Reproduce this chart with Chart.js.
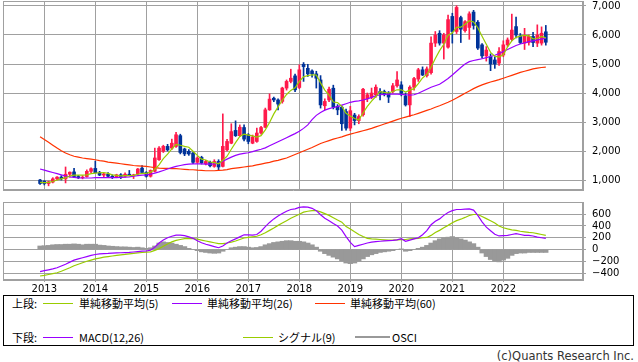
<!DOCTYPE html>
<html><head><meta charset="utf-8">
<script src="https://cdn.jsdelivr.net/npm/chart.js@4.4.1/dist/chart.umd.min.js"></script>
<style>
html,body{margin:0;padding:0;background:#fff;}
#wrap{position:relative;width:638px;height:362px;overflow:hidden;font-family:"DejaVu Sans",sans-serif;}
#c1{position:absolute;left:0;top:0;}
#c2{position:absolute;left:0;top:196px;}
#box{position:absolute;left:3px;top:295px;width:629px;height:49px;border:1px solid #000;}
.t{position:absolute;white-space:nowrap;font-family:"Noto Sans CJK JP",sans-serif;font-size:11px;line-height:14px;color:#000;}
.ln{position:absolute;height:1px;}
#copy{position:absolute;right:4px;top:349px;font-family:"DejaVu Sans",sans-serif;font-size:11.5px;line-height:14px;color:#333;white-space:nowrap;}
</style></head>
<body><div id="wrap">
<canvas id="c1" width="638" height="196"></canvas>
<canvas id="c2" width="638" height="99"></canvas>
<div id="box"></div>
<div class="t" style="left:12px;top:296px">上段:</div>
<div class="ln" style="left:43px;top:303px;width:30px;background:#99cc00"></div>
<div class="t" style="left:79px;top:296px">単純移動平均(5)</div>
<div class="ln" style="left:172px;top:303px;width:30px;background:#9900ff"></div>
<div class="t" style="left:207px;top:296px">単純移動平均(26)</div>
<div class="ln" style="left:315px;top:303px;width:30px;background:#ff3300"></div>
<div class="t" style="left:350px;top:296px">単純移動平均(60)</div>
<div class="t" style="left:12px;top:330px">下段:</div>
<div class="ln" style="left:43px;top:337px;width:30px;background:#9900ff"></div>
<div class="t" style="left:79px;top:330px">MACD(12,26)</div>
<div class="ln" style="left:243px;top:337px;width:30px;background:#99cc00"></div>
<div class="t" style="left:278px;top:330px">シグナル(9)</div>
<div class="ln" style="left:355px;top:336px;width:35px;height:2px;background:#999"></div>
<div class="t" style="left:392px;top:330px">OSCI</div>
<div id="copy">(c)Quants Research Inc.</div>
</div>
<script>
// ---- data (monthly, Dec 2012 .. Nov 2022) ----
const months = [];
for (let k = 0; k < 120; k++) { const yy = 2012 + Math.floor((11 + k) / 12); const mm = ((11 + k) % 12) + 1; months.push(yy + '/' + String(mm).padStart(2, '0')); }
const years = ['2013','2014','2015','2016','2017','2018','2019','2020','2021','2022'];
const yearIdx = [1,13,25,37,49,61,73,85,97,109];
const priceTicks = [1000,2000,3000,4000,5000,6000,7000];
const macdTicks = [-400,-200,0,200,400,600];

const openP = [1000,960,880,930,1040,1100,1040,1200,1280,1120,1080,1120,1300,
1400,1250,1170,1200,1130,1100,1180,1130,1200,1150,1220,1410,
1260,1130,1300,1700,1990,2160,2100,2160,2530,2070,1990,1930,
1610,1780,1560,1610,1470,1640,1470,2040,2270,2710,2530,2810,
2560,2270,2330,2620,2820,3420,3820,3760,3710,4170,4400,4590,
4190,4990,4850,4760,4660,4450,3560,3760,4165,3540,3510,3360,
2790,3240,3050,3250,3800,3860,3940,4050,4050,3990,4050,4250,
4280,3900,3590,4200,4480,4800,4600,4700,5720,6060,5720,5580,
6640,6120,6600,6150,6260,6790,6440,5660,5280,5250,5140,5030,
5310,5660,5850,6290,5970,5720,5740,5950,5720,5720,6110];
const highP = [1020,980,960,1080,1120,1150,1450,1280,1400,1160,1150,1350,1420,
1650,1300,1230,1260,1180,1200,1220,1250,1330,1200,1400,1500,
1290,1350,2100,2150,2200,2230,2410,2640,2580,2100,2050,1960,
1800,1820,1680,1650,1700,1700,3280,2400,2940,3040,2900,2900,
2600,2550,2790,2850,3480,3970,3860,3800,4200,4450,4820,4650,
4970,5050,4990,4800,4750,4600,3800,4200,4270,3600,3560,3450,
3540,3300,3250,4165,4000,4170,4280,4150,4100,4050,4330,4740,
4390,4000,4250,4540,4850,4900,4900,5940,6120,6150,6060,6690,
6750,7010,6650,6500,6800,6850,6500,5700,5600,5350,5250,5570,
5800,5900,6720,6620,6050,6230,6000,6090,6350,6280,6330];
const lowP = [850,830,800,900,1000,1000,900,1100,1080,1050,1040,1100,1250,
1250,1150,1100,1100,1050,1080,1050,1100,1150,1050,1180,1240,
1100,1100,1280,1680,1950,2000,2050,2120,1900,1840,1850,1560,
1580,1550,1520,1450,1440,1330,1450,2000,2250,2500,2500,2350,
2250,2250,2300,2580,2800,3400,3700,3420,3650,4100,4350,4050,
4150,4400,4570,4550,4170,3480,3420,3700,3450,3250,2710,2720,
2700,2900,2940,3200,3700,3800,3850,3760,3900,3670,4000,4200,
3900,3550,3190,4100,4400,4600,4550,4650,5600,5650,5170,5550,
5720,6050,5740,6100,5850,6200,5500,5200,5100,4770,4850,4950,
5250,5600,5800,5900,5700,5500,5650,5600,5600,5650,5650];
const closeP = [880,880,940,1040,1100,1040,1200,1270,1120,1080,1100,1300,1390,
1250,1170,1210,1130,1100,1180,1120,1200,1150,1180,1380,1260,
1130,1330,1760,2100,2160,2040,2270,2560,1950,1900,1900,1610,
1760,1590,1640,1490,1640,1450,2160,2330,2670,2530,2820,2410,
2330,2480,2620,2810,3420,3790,3760,3620,4170,4400,4510,4110,
4800,4910,4660,4660,4510,3590,3710,4130,3510,3420,2940,2790,
3390,3050,3190,4130,3940,4000,4200,3990,3970,3860,4250,4450,
3990,3590,4200,4500,4800,4620,4830,5720,6000,5720,6000,6530,
6120,6950,6200,6460,6730,6330,5550,5280,5480,5000,5000,5430,
5660,5830,6170,6000,5740,5970,5950,5740,6000,6060,5750];

const ma5 = [920,910,920,950,1000,1040,1080,1140,1170,1170,1170,1180,1220,
1240,1250,1260,1230,1180,1160,1140,1150,1150,1160,1200,1230,
1230,1270,1370,1520,1740,1890,2070,2230,2200,2160,2130,1990,
1850,1720,1690,1620,1600,1560,1680,1820,2060,2290,2500,2580,
2550,2520,2480,2530,2730,2980,3280,3520,3750,3950,4090,4180,
4400,4560,4600,4630,4620,4350,4100,3930,3690,3670,3540,3300,
3210,3120,3070,3310,3540,3720,3880,4050,4020,4000,4050,4110,
4110,4030,4100,4150,4320,4520,4640,4890,5190,5460,5680,5990,
6070,6260,6270,6370,6490,6450,6250,5960,5680,5400,5270,5240,
5320,5590,5800,5920,5960,5990,5970,5870,5880,5950,5900];
const ma26 = [1380,1340,1300,1260,1220,1180,1140,1110,1090,1070,1070,1070,1070,
1080,1080,1080,1080,1080,1080,1090,1100,1110,1130,1150,1170,
1180,1200,1240,1280,1330,1380,1430,1470,1500,1530,1550,1560,
1560,1560,1550,1550,1560,1580,1650,1720,1790,1850,1890,1920,
1940,1980,2020,2060,2110,2180,2250,2320,2390,2460,2530,2600,
2680,2780,2900,3080,3230,3330,3410,3460,3500,3530,3580,3630,
3680,3710,3730,3760,3800,3850,3900,3940,3950,3960,3960,3960,
3950,3940,3930,3940,3990,4060,4130,4200,4250,4300,4400,4500,
4620,4750,4880,5000,5080,5120,5150,5180,5220,5260,5300,5360,
5430,5500,5570,5640,5690,5730,5770,5800,5830,5860,5890];
const ma60 = [2490,2400,2300,2200,2100,2010,1930,1870,1820,1790,1760,1740,1720,
1700,1670,1650,1620,1600,1580,1560,1540,1520,1500,1490,1480,
1470,1450,1430,1410,1400,1400,1390,1390,1380,1370,1360,1355,
1340,1330,1320,1320,1320,1330,1340,1360,1390,1410,1430,1450,
1470,1490,1520,1550,1580,1610,1650,1680,1720,1760,1820,1880,
1940,2000,2060,2120,2190,2260,2310,2360,2410,2450,2490,2540,
2580,2620,2660,2700,2740,2780,2830,2880,2930,2980,3030,3080,
3130,3170,3210,3250,3300,3350,3400,3450,3510,3560,3620,3680,
3750,3830,3910,3990,4070,4150,4220,4280,4330,4380,4420,4460,
4510,4560,4610,4660,4710,4750,4790,4830,4860,4880,4890];

const macd = [-377,-360,-345,-330,-310,-280,-250,-215,-180,-160,-140,-120,-100,
-85,-75,-70,-67,-62,-58,-55,-52,-48,-42,-35,-29,
-25,-12,40,110,160,200,225,245,245,235,215,190,
150,115,90,70,50,30,60,110,150,180,215,250,
250,245,255,310,390,460,520,570,610,650,680,690,
715,725,720,700,660,590,530,490,440,400,330,220,
120,50,70,90,110,125,135,140,145,150,155,165,
185,140,160,180,200,250,320,420,480,520,580,630,
660,680,680,685,690,670,580,470,380,320,260,230,
235,240,255,270,255,240,240,230,210,200,190];
const signal = [-450,-440,-425,-410,-395,-370,-340,-310,-276,-250,-225,-200,-180,
-160,-145,-130,-120,-110,-100,-90,-84,-75,-65,-58,-51,
-45,-40,-15,15,55,95,130,155,170,185,188,185,
175,160,145,130,115,100,100,110,125,145,170,195,
205,215,225,250,285,325,365,410,450,490,530,565,
600,635,650,660,660,640,610,580,540,500,465,390,
350,300,255,220,190,180,175,170,165,160,160,165,
168,170,180,185,190,200,205,240,290,325,370,410,
455,490,515,545,578,595,595,560,525,490,450,400,
370,350,335,325,310,300,290,285,270,255,240];
const osci = [60,65,70,80,85,85,90,90,95,90,80,90,90,
90,75,70,60,55,50,45,45,40,35,40,30,
20,30,60,110,130,120,110,90,70,50,20,0,
-20,-40,-50,-60,-65,-60,-30,0,30,40,50,50,
40,30,35,50,80,100,120,130,140,150,150,140,
140,130,110,80,40,-30,-70,-100,-130,-160,-190,-230,
-240,-230,-200,-160,-120,-90,-70,-50,-40,-30,-20,0,
10,-30,-20,0,20,40,70,110,150,180,200,210,
220,200,180,160,130,100,40,-60,-120,-170,-200,-210,
-180,-150,-100,-70,-60,-60,-50,-50,-50,-50,-50];

// ---- styles ----
const GRID = '#a0a0a0';
const UP = '#ff1a4b', DOWN = '#003399';
const C5 = '#99cc00', C26 = '#9900ff', C60 = '#ff3300', COSC = '#999999';
Chart.defaults.font.family = '"DejaVu Sans", sans-serif';
Chart.defaults.font.size = 10;
Chart.defaults.color = '#000';

const frame = { id: 'frame', afterDatasetsDraw(c) {
  const a = c.chartArea, ctx = c.ctx; ctx.save(); ctx.strokeStyle = GRID; ctx.lineWidth = 1;
  ctx.strokeRect(Math.round(a.left) + 0.5, Math.round(a.top) + 0.5, Math.round(a.right - a.left) - 1, Math.round(a.bottom - a.top) - 1);
  ctx.restore(); } };

const noPad = s => { s.paddingTop = 0; s.paddingBottom = 0; s.paddingLeft = 0; s.paddingRight = 0; };
const XMIN = -8.72, XMAX = 127.75;
const candleColor = months.map((m, i) => closeP[i] >= openP[i] ? UP : DOWN);
const pts = arr => arr.map((v, i) => ({ x: i, y: v }));

new Chart(document.getElementById('c1'), {
  data: { datasets: [
    { type: 'line', data: pts(ma5), borderColor: C5, borderWidth: 1.2, pointRadius: 0, order: 0 },
    { type: 'line', data: pts(ma26), borderColor: C26, borderWidth: 1.2, pointRadius: 0, order: 0 },
    { type: 'line', data: pts(ma60), borderColor: C60, borderWidth: 1.2, pointRadius: 0, order: 0 },
    { type: 'bar', data: months.map((m, i) => ({ x: i, y: [openP[i], closeP[i]] })), backgroundColor: candleColor, barThickness: 3, grouped: false, order: 1 },
    { type: 'bar', data: months.map((m, i) => ({ x: i, y: [lowP[i], highP[i]] })), backgroundColor: candleColor, barThickness: 1, grouped: false, order: 2 }
  ] },
  options: {
    responsive: false, animation: false, devicePixelRatio: 1,
    layout: { padding: { left: 3, top: 1, right: 0, bottom: 0 } },
    plugins: { legend: { display: false }, tooltip: { enabled: false } },
    scales: {
      x: { type: 'linear', min: XMIN, max: XMAX, offset: false,
        afterBuildTicks: s => { s.ticks = yearIdx.map(v => ({ value: v })); },
        ticks: { display: false }, grid: { color: GRID, offset: false, drawTicks: false, tickLength: 0 }, border: { color: GRID },
        afterFit: s => { s.height = 6; noPad(s); } },
      y: { position: 'right', min: 656, max: 7172,
        afterBuildTicks: s => { s.ticks = priceTicks.map(v => ({ value: v })); },
        ticks: { callback: v => v.toLocaleString('en-US'), padding: 6, autoSkip: false },
        grid: { color: GRID, tickLength: 3 }, border: { color: GRID },
        afterFit: s => { s.width = 55; noPad(s); } }
    }
  },
  plugins: [frame]
});

new Chart(document.getElementById('c2'), {
  data: { datasets: [
    { type: 'line', data: pts(macd), borderColor: C26, borderWidth: 1.2, pointRadius: 0, order: 0 },
    { type: 'line', data: pts(signal), borderColor: C5, borderWidth: 1.2, pointRadius: 0, order: 0 },
    { type: 'bar', data: pts(osci), backgroundColor: COSC, barThickness: 4.6, order: 1 }
  ] },
  options: {
    responsive: false, animation: false, devicePixelRatio: 1,
    layout: { padding: { left: 3, top: 6, right: 0, bottom: 0 } },
    plugins: { legend: { display: false }, tooltip: { enabled: false } },
    scales: {
      x: { type: 'linear', min: XMIN, max: XMAX, offset: false,
        afterBuildTicks: s => { s.ticks = yearIdx.map(v => ({ value: v })); },
        ticks: { callback: v => years[yearIdx.indexOf(v)], padding: 1, maxRotation: 0, autoSkip: false },
        grid: { color: GRID, offset: false, tickLength: 2 }, border: { color: GRID },
        afterFit: s => { s.height = 15; noPad(s); } },
      y: { position: 'right', min: -518, max: 807,
        afterBuildTicks: s => { s.ticks = macdTicks.map(v => ({ value: v })); },
        ticks: { callback: v => v < 0 ? '\u2212' + Math.abs(v) : String(v), padding: 6, autoSkip: false },
        grid: { color: GRID, tickLength: 3 }, border: { color: GRID },
        afterFit: s => { s.width = 55; noPad(s); } }
    }
  },
  plugins: [frame]
});
</script>
</body></html>
